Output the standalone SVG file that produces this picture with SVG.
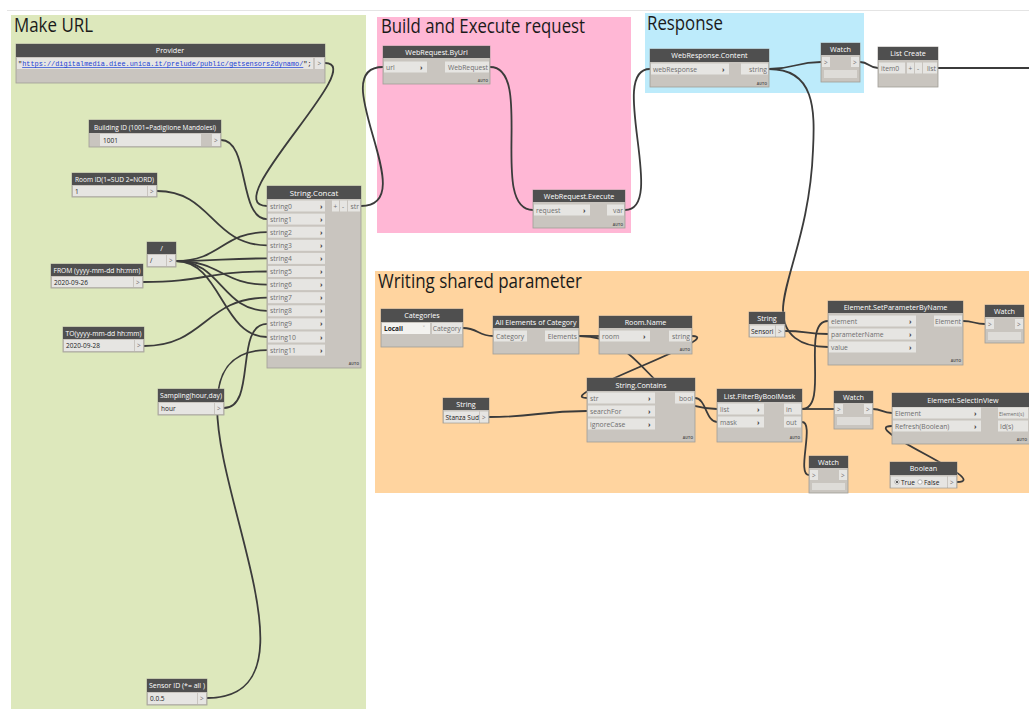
<svg xmlns="http://www.w3.org/2000/svg" width="1029" height="709" viewBox="0 0 1029 709">
<defs>
<style>
text{font-family:"Open Sans","Noto Sans","DejaVu Sans",sans-serif}
.bd{fill:#c9c5bf;stroke:#a19d97;stroke-width:0.8}
.hd{fill:#4f4f4f}
.pt{fill:#e6e5e2}
.ht{font-size:7.2px;fill:#ffffff;text-anchor:middle}
.pl{font-size:6.8px;fill:#6e6e6e}
.pr{font-size:6.8px;fill:#6e6e6e;text-anchor:end}
.pc{font-size:7px;fill:#333;font-weight:bold}
.pa{font-size:6.5px;fill:#6e6e6e}
.va{font-size:6.5px;fill:#222}
.au{font-size:3.6px;fill:#555;text-anchor:end;font-weight:bold}
.ib{fill:#dedcd8}
.gt{font-size:19.5px;fill:#1a1a1a}
.w{fill:none;stroke:#3b3b3b;stroke-width:1.8}
.mono{font-family:"Liberation Mono","DejaVu Sans Mono",monospace;font-size:6.9px;fill:#222}
.url{fill:#1a3fd6;text-decoration:underline}
</style>
</defs>
<rect x="0" y="0" width="1029" height="709" fill="#ffffff"/>
<line x1="7" y1="10.5" x2="1029" y2="10.5" stroke="#e4e4e4" stroke-width="1"/>

<g id="groups">
<g id="group-make-url"><rect x="11" y="15" width="355" height="694" fill="#dde8bc"/><text class="gt" x="14" y="32" textLength="79" lengthAdjust="spacingAndGlyphs">Make URL</text></g>
<g id="group-build"><rect x="377" y="17" width="254" height="216" fill="#ffb7d5"/><text class="gt" x="381" y="33" textLength="204" lengthAdjust="spacingAndGlyphs">Build and Execute request</text></g>
<g id="group-response"><rect x="645" y="13" width="219" height="80" fill="#bdebfb"/><text class="gt" x="647" y="30" textLength="76" lengthAdjust="spacingAndGlyphs">Response</text></g>
<g id="group-writing"><rect x="375" y="271" width="654" height="222" fill="#ffd49f"/><text class="gt" x="378" y="288" textLength="204" lengthAdjust="spacingAndGlyphs">Writing shared parameter</text></g>
</g>

<g id="connectors">
<path class="w" d="M325,63 C370,63 215,206 267,206"/>
<path class="w" d="M221,140 C250,140 238,219.1 267,219.1"/>
<path class="w" d="M157,191 C212,191 212,245.3 267,245.3"/>
<path class="w" d="M176,261 C221,261 222,232.2 267,232.2"/>
<path class="w" d="M176,261 C221,261 222,258.4 267,258.4"/>
<path class="w" d="M176,261 C221,261 222,284.6 267,284.6"/>
<path class="w" d="M176,261 C221,261 222,310.8 267,310.8"/>
<path class="w" d="M176,261 C221,261 222,337 267,337"/>
<path class="w" d="M143,282 C205,282 205,271.5 267,271.5"/>
<path class="w" d="M144,346 C205,346 205,297.7 267,297.7"/>
<path class="w" d="M224,408 C257,408 234,323.9 267,323.9"/>
<path class="w" d="M207,698 C360,698 120,350.1 267,350.1"/>
<path class="w" d="M361,206 C425,206 322,67 383,67"/>
<path class="w" d="M490,67 C535,67 488,210 533,210"/>
<path class="w" d="M625,210 C668,210 607,69 650,69"/>
<path class="w" d="M769,69 C795,69 795,62 821,62"/>
<path class="w" d="M769,69 C815,69 815,110 813,150 C810,230 783,280 783,310 C783,335 800,347 828,347"/>
<path class="w" d="M860,62 C869,62 869,68 878,68"/>
<path class="w" d="M938,68 C980,68 990,68 1029,68"/>
<path class="w" d="M463,328 C478,328 478,336 493,336"/>
<path class="w" d="M579,336 C589,336 589,336 599,336"/>
<path class="w" d="M579,336 C648,336 648,409 717,409"/>
<path class="w" d="M692,336 C730,336 549,398 587,398"/>
<path class="w" d="M489,417 C538,417 538,411 587,411"/>
<path class="w" d="M695,398 C706,398 706,422 717,422"/>
<path class="w" d="M802,409 C818,409 818,409 834,409"/>
<path class="w" d="M802,409 C830,409 800,321 828,321"/>
<path class="w" d="M802,422 C815,422 796,475 809,475"/>
<path class="w" d="M785,331 C806,331 806,334 828,334"/>
<path class="w" d="M963,321 C974,321 974,324 985,324"/>
<path class="w" d="M873,409 C882,409 882,413 892,413"/>
<path class="w" d="M957,482 C995,482 855,426 892,426"/>
</g>

<g id="node-provider">
<rect class="bd" x="16" y="44" width="309" height="39"/>
<rect class="hd" x="16" y="44" width="309" height="13"/>
<text class="ht" x="170" y="53">Provider</text>
<rect class="pt" x="17" y="58" width="296" height="11"/>
<rect class="pt" x="315" y="58" width="9" height="11"/>
<text class="pa" x="317.5" y="66">&gt;</text>
<text class="mono" x="18" y="66">"<tspan class="url">https://digitalmedia.diee.unica.it/prelude/public/getsensors2dynamo/</tspan>";</text>
</g>

<g id="node-building-id">
<rect class="bd" x="89" y="120" width="132" height="27"/>
<rect class="hd" x="89" y="120" width="132" height="13"/>
<text class="ht" x="155" y="129.5" textLength="122" lengthAdjust="spacingAndGlyphs">Building ID (1001=Padiglione Mandolesi)</text>
<rect class="pt" x="100" y="134" width="101" height="12"/>
<rect class="pt" x="212" y="134" width="8" height="12"/>
<text class="pa" x="214" y="142.5">&gt;</text>
<text class="va" x="103" y="142.5">1001</text>
</g>

<g id="node-room-id">
<rect class="bd" x="72" y="173" width="85" height="24"/>
<rect class="hd" x="72" y="173" width="85" height="12"/>
<text class="ht" x="114.5" y="181.5" textLength="79" lengthAdjust="spacingAndGlyphs">Room ID(1=SUD 2=NORD)</text>
<rect class="pt" x="73" y="186" width="74" height="10"/>
<rect class="pt" x="148" y="186" width="8" height="10"/>
<text class="pa" x="150" y="193.5">&gt;</text>
<text class="va" x="75" y="193.5">1</text>
</g>

<g id="node-slash">
<rect class="bd" x="147" y="242" width="29" height="25"/>
<rect class="hd" x="147" y="242" width="29" height="12"/>
<text class="ht" x="161.5" y="250.5">/</text>
<rect class="pt" x="148" y="255" width="18" height="11"/>
<rect class="pt" x="167" y="255" width="8" height="11"/>
<text class="pa" x="169" y="263">&gt;</text>
<text class="va" x="150" y="263">/</text>
</g>

<g id="node-from">
<rect class="bd" x="51" y="264" width="92" height="24"/>
<rect class="hd" x="51" y="264" width="92" height="12"/>
<text class="ht" x="97" y="272.5" textLength="87" lengthAdjust="spacingAndGlyphs">FROM (yyyy-mm-dd hh:mm)</text>
<rect class="pt" x="52" y="277" width="81" height="10"/>
<rect class="pt" x="134" y="277" width="8" height="10"/>
<text class="pa" x="136" y="284.5">&gt;</text>
<text class="va" x="54" y="284.5">2020-09-26</text>
</g>

<g id="node-to">
<rect class="bd" x="63" y="327" width="81" height="25"/>
<rect class="hd" x="63" y="327" width="81" height="12"/>
<text class="ht" x="103.5" y="335.5" textLength="76" lengthAdjust="spacingAndGlyphs">TO(yyyy-mm-dd hh:mm)</text>
<rect class="pt" x="64" y="340" width="70" height="11"/>
<rect class="pt" x="135" y="340" width="8" height="11"/>
<text class="pa" x="137" y="348">&gt;</text>
<text class="va" x="66" y="348">2020-09-28</text>
</g>

<g id="node-sampling">
<rect class="bd" x="158" y="389" width="66" height="26"/>
<rect class="hd" x="158" y="389" width="66" height="13"/>
<text class="ht" x="191" y="398" textLength="62" lengthAdjust="spacingAndGlyphs">Sampling(hour,day)</text>
<rect class="pt" x="159" y="403" width="55" height="11"/>
<rect class="pt" x="215" y="403" width="8" height="11"/>
<text class="pa" x="217" y="411">&gt;</text>
<text class="va" x="161" y="411">hour</text>
</g>

<g id="node-sensor-id">
<rect class="bd" x="147" y="679" width="60" height="26"/>
<rect class="hd" x="147" y="679" width="60" height="13"/>
<text class="ht" x="177" y="688" textLength="56" lengthAdjust="spacingAndGlyphs">Sensor  ID (*= all )</text>
<rect class="pt" x="148" y="693" width="49" height="11"/>
<rect class="pt" x="198" y="693" width="8" height="11"/>
<text class="pa" x="200" y="701">&gt;</text>
<text class="va" x="150" y="701">0.0.5</text>
</g>

<g id="node-string-concat">
<rect class="bd" x="267" y="186" width="94" height="182"/>
<rect class="hd" x="267" y="186" width="94" height="13"/>
<text class="ht" x="314" y="195.5" style="font-size:7.8px">String.Concat</text>
<rect class="pt" x="268" y="200.5" width="57" height="11"/><text class="pl" x="270" y="208.5">string0</text><text class="pc" x="320" y="208.5">›</text>
<rect class="pt" x="268" y="213.6" width="57" height="11"/><text class="pl" x="270" y="221.6">string1</text><text class="pc" x="320" y="221.6">›</text>
<rect class="pt" x="268" y="226.7" width="57" height="11"/><text class="pl" x="270" y="234.7">string2</text><text class="pc" x="320" y="234.7">›</text>
<rect class="pt" x="268" y="239.8" width="57" height="11"/><text class="pl" x="270" y="247.8">string3</text><text class="pc" x="320" y="247.8">›</text>
<rect class="pt" x="268" y="252.9" width="57" height="11"/><text class="pl" x="270" y="260.9">string4</text><text class="pc" x="320" y="260.9">›</text>
<rect class="pt" x="268" y="266" width="57" height="11"/><text class="pl" x="270" y="274">string5</text><text class="pc" x="320" y="274">›</text>
<rect class="pt" x="268" y="279.1" width="57" height="11"/><text class="pl" x="270" y="287.1">string6</text><text class="pc" x="320" y="287.1">›</text>
<rect class="pt" x="268" y="292.2" width="57" height="11"/><text class="pl" x="270" y="300.2">string7</text><text class="pc" x="320" y="300.2">›</text>
<rect class="pt" x="268" y="305.3" width="57" height="11"/><text class="pl" x="270" y="313.3">string8</text><text class="pc" x="320" y="313.3">›</text>
<rect class="pt" x="268" y="318.4" width="57" height="11"/><text class="pl" x="270" y="326.4">string9</text><text class="pc" x="320" y="326.4">›</text>
<rect class="pt" x="268" y="331.5" width="57" height="11"/><text class="pl" x="270" y="339.5">string10</text><text class="pc" x="320" y="339.5">›</text>
<rect class="pt" x="268" y="344.6" width="57" height="11"/><text class="pl" x="270" y="352.6">string11</text><text class="pc" x="320" y="352.6">›</text>
<rect class="pt" x="332" y="200.5" width="7" height="11"/><text class="pa" x="333.5" y="208.5">+</text>
<rect class="pt" x="340" y="200.5" width="7" height="11"/><text class="pa" x="342" y="208.5">-</text>
<rect class="pt" x="348" y="200.5" width="12" height="11"/><text class="pr" x="359" y="208.5">str</text>
<text class="au" x="359" y="365">AUTO</text>
</g>

<g id="node-webrequest-byurl">
<rect class="bd" x="383" y="46" width="107" height="38"/>
<rect class="hd" x="383" y="46" width="107" height="12"/>
<text class="ht" x="436.5" y="54.5">WebRequest.ByUrl</text>
<rect class="pt" x="384" y="61.5" width="43" height="11"/><text class="pl" x="386" y="69.5">url</text><text class="pc" x="420" y="69.5">›</text>
<rect class="pt" x="445" y="61.5" width="44" height="11"/><text class="pr" x="488" y="69.5">WebRequest</text>
<text class="au" x="488" y="81.5">AUTO</text>
</g>

<g id="node-webrequest-execute">
<rect class="bd" x="533" y="190" width="92" height="38"/>
<rect class="hd" x="533" y="190" width="92" height="12"/>
<text class="ht" x="579" y="198.5">WebRequest.Execute</text>
<rect class="pt" x="534" y="204.5" width="56" height="11"/><text class="pl" x="536" y="212.5">request</text><text class="pc" x="583" y="212.5">›</text>
<rect class="pt" x="607" y="204.5" width="17" height="11"/><text class="pr" x="623" y="212.5">var</text>
<text class="au" x="623" y="225.5">AUTO</text>
</g>

<g id="node-webresponse-content">
<rect class="bd" x="650" y="49" width="119" height="38"/>
<rect class="hd" x="650" y="49" width="119" height="13"/>
<text class="ht" x="709.5" y="58">WebResponse.Content</text>
<rect class="pt" x="651" y="63.5" width="78" height="11"/><text class="pl" x="653" y="71.5">webResponse</text><text class="pc" x="722" y="71.5">›</text>
<rect class="pt" x="741" y="63.5" width="27" height="11"/><text class="pr" x="767" y="71.5">string</text>
<text class="au" x="767" y="84.5">AUTO</text>
</g>

<g id="node-watch-top">
<rect class="bd" x="821" y="43" width="39" height="39"/>
<rect class="hd" x="821" y="43" width="39" height="12"/>
<text class="ht" x="840.5" y="51.5">Watch</text>
<rect class="pt" x="822" y="57" width="8" height="10"/><text class="pa" x="824" y="64.5">&gt;</text>
<rect class="pt" x="851" y="57" width="8" height="10"/><text class="pa" x="853" y="64.5">&gt;</text>
<rect class="ib" x="824" y="70" width="33" height="8"/>
</g>

<g id="node-list-create">
<rect class="bd" x="878" y="47" width="60" height="40"/>
<rect class="hd" x="878" y="47" width="60" height="13"/>
<text class="ht" x="908" y="56">List Create</text>
<rect class="pt" x="879" y="62.5" width="26" height="11"/><text class="pl" x="881" y="70.5">item0</text>
<rect class="pt" x="907" y="62.5" width="7" height="11"/><text class="pa" x="908.5" y="70.5">+</text>
<rect class="pt" x="915" y="62.5" width="7" height="11"/><text class="pa" x="917" y="70.5">-</text>
<rect class="pt" x="923" y="62.5" width="14" height="11"/><text class="pr" x="936" y="70.5">list</text>
</g>

<g id="node-categories">
<rect class="bd" x="381" y="309" width="82" height="38"/>
<rect class="hd" x="381" y="309" width="82" height="13"/>
<text class="ht" x="422" y="318">Categories</text>
<rect x="382" y="323" width="48" height="11" fill="#f3f2ef"/>
<text class="va" x="384" y="331" style="font-weight:bold">Locali</text>
<text class="pa" x="423" y="331">˅</text>
<rect class="pt" x="432" y="323" width="30" height="11"/><text class="pr" x="461" y="331">Category</text>
</g>

<g id="node-all-elements">
<rect class="bd" x="493" y="316" width="86" height="38"/>
<rect class="hd" x="493" y="316" width="86" height="12"/>
<text class="ht" x="536" y="324.5">All Elements of Category</text>
<rect class="pt" x="494" y="330.5" width="33" height="11"/><text class="pl" x="496" y="338.5">Category</text>
<rect class="pt" x="545" y="330.5" width="33" height="11"/><text class="pr" x="577" y="338.5">Elements</text>
</g>

<g id="node-room-name">
<rect class="bd" x="599" y="316" width="93" height="38"/>
<rect class="hd" x="599" y="316" width="93" height="12"/>
<text class="ht" x="645.5" y="324.5">Room.Name</text>
<rect class="pt" x="600" y="330.5" width="50" height="11"/><text class="pl" x="602" y="338.5">room</text><text class="pc" x="643" y="338.5">›</text>
<rect class="pt" x="669" y="330.5" width="22" height="11"/><text class="pr" x="690" y="338.5">string</text>
<text class="au" x="690" y="351">AUTO</text>
</g>

<g id="node-string-stanza">
<rect class="bd" x="443" y="398" width="46" height="25"/>
<rect class="hd" x="443" y="398" width="46" height="12"/>
<text class="ht" x="466" y="406.5">String</text>
<rect class="pt" x="444" y="411.5" width="35" height="11"/><text class="va" x="445.5" y="419.5">Stanza Sud</text>
<rect class="pt" x="480" y="411.5" width="8" height="11"/><text class="pa" x="482" y="419.5">&gt;</text>
</g>

<g id="node-string-contains">
<rect class="bd" x="587" y="378" width="108" height="64"/>
<rect class="hd" x="587" y="378" width="108" height="13"/>
<text class="ht" x="641" y="387.5">String.Contains</text>
<rect class="pt" x="588" y="392.5" width="67" height="11"/><text class="pl" x="590" y="400.5">str</text><text class="pc" x="648" y="400.5">›</text>
<rect class="pt" x="588" y="405.5" width="67" height="11"/><text class="pl" x="590" y="413.5">searchFor</text><text class="pc" x="648" y="413.5">›</text>
<rect class="pt" x="588" y="418.5" width="67" height="11"/><text class="pl" x="590" y="426.5">ignoreCase</text><text class="pc" x="648" y="426.5">›</text>
<rect class="pt" x="675" y="392.5" width="19" height="11"/><text class="pr" x="693" y="400.5">bool</text>
<text class="au" x="693" y="439">AUTO</text>
</g>

<g id="node-filter-bool-mask">
<rect class="bd" x="717" y="389" width="85" height="53"/>
<rect class="hd" x="717" y="389" width="85" height="13"/>
<text class="ht" x="759.5" y="398.5">List.FilterByBoolMask</text>
<rect class="pt" x="718" y="403.5" width="46" height="11"/><text class="pl" x="720" y="411.5">list</text><text class="pc" x="757" y="411.5">›</text>
<rect class="pt" x="718" y="416.5" width="46" height="11"/><text class="pl" x="720" y="424.5">mask</text><text class="pc" x="757" y="424.5">›</text>
<rect class="pt" x="784" y="403.5" width="17" height="11"/><text class="pl" x="786" y="411.5">in</text>
<rect class="pt" x="784" y="416.5" width="17" height="11"/><text class="pl" x="786" y="424.5">out</text>
<text class="au" x="800" y="439">AUTO</text>
</g>

<g id="node-string-sensori">
<rect class="bd" x="749" y="312" width="36" height="25"/>
<rect class="hd" x="749" y="312" width="36" height="12"/>
<text class="ht" x="767" y="320.5">String</text>
<rect class="pt" x="750" y="325.5" width="25" height="11"/><text class="va" x="751" y="333.5">Sensori</text>
<rect class="pt" x="776" y="325.5" width="8" height="11"/><text class="pa" x="778" y="333.5">&gt;</text>
</g>

<g id="node-set-parameter">
<rect class="bd" x="828" y="301" width="135" height="64"/>
<rect class="hd" x="828" y="301" width="135" height="12"/>
<text class="ht" x="895.5" y="309.5">Element.SetParameterByName</text>
<rect class="pt" x="829" y="315.5" width="87" height="11"/><text class="pl" x="831" y="323.5">element</text><text class="pc" x="909" y="323.5">›</text>
<rect class="pt" x="829" y="328.5" width="87" height="11"/><text class="pl" x="831" y="336.5">parameterName</text><text class="pc" x="909" y="336.5">›</text>
<rect class="pt" x="829" y="341.5" width="87" height="11"/><text class="pl" x="831" y="349.5">value</text><text class="pc" x="909" y="349.5">›</text>
<rect class="pt" x="934" y="315.5" width="28" height="11"/><text class="pr" x="961" y="323.5">Element</text>
<text class="au" x="961" y="362">AUTO</text>
</g>

<g id="node-watch-right">
<rect class="bd" x="985" y="305" width="39" height="38"/>
<rect class="hd" x="985" y="305" width="39" height="12"/>
<text class="ht" x="1004.5" y="313.5">Watch</text>
<rect class="pt" x="986" y="319" width="8" height="10"/><text class="pa" x="988" y="326.5">&gt;</text>
<rect class="pt" x="1015" y="319" width="8" height="10"/><text class="pa" x="1017" y="326.5">&gt;</text>
<rect class="ib" x="988" y="332" width="33" height="8"/>
</g>

<g id="node-watch-middle">
<rect class="bd" x="834" y="391" width="39" height="38"/>
<rect class="hd" x="834" y="391" width="39" height="12"/>
<text class="ht" x="853.5" y="399.5">Watch</text>
<rect class="pt" x="835" y="404" width="8" height="10"/><text class="pa" x="837" y="411.5">&gt;</text>
<rect class="pt" x="864" y="404" width="8" height="10"/><text class="pa" x="866" y="411.5">&gt;</text>
<rect class="ib" x="837" y="417" width="33" height="8"/>
</g>

<g id="node-select-in-view">
<rect class="bd" x="892" y="393" width="145" height="51"/>
<rect class="hd" x="892" y="393" width="145" height="14"/>
<text class="ht" x="963" y="402.5">Element.SelectInView</text>
<rect class="pt" x="893" y="407.5" width="88" height="11"/><text class="pl" x="895" y="415.5">Element</text><text class="pc" x="974" y="415.5">›</text>
<rect class="pt" x="893" y="420.5" width="88" height="11"/><text class="pl" x="895" y="428.5">Refresh(Boolean)</text><text class="pc" x="974" y="428.5">›</text>
<rect class="pt" x="998" y="407.5" width="30" height="11"/><text class="pl" x="999" y="415.5" style="font-size:6px" textLength="25" lengthAdjust="spacingAndGlyphs">Element(s)</text>
<rect class="pt" x="998" y="420.5" width="30" height="11"/><text class="pl" x="1000" y="428.5">Id(s)</text>
<text class="au" x="1027" y="441">AUTO</text>
</g>

<g id="node-watch-bottom">
<rect class="bd" x="809" y="456" width="39" height="37"/>
<rect class="hd" x="809" y="456" width="39" height="12"/>
<text class="ht" x="828.5" y="464.5">Watch</text>
<rect class="pt" x="810" y="470" width="8" height="10"/><text class="pa" x="812" y="477.5">&gt;</text>
<rect class="pt" x="839" y="470" width="8" height="10"/><text class="pa" x="841" y="477.5">&gt;</text>
<rect class="ib" x="812" y="483" width="33" height="7"/>
</g>

<g id="node-boolean">
<rect class="bd" x="890" y="462" width="67" height="26"/>
<rect class="hd" x="890" y="462" width="67" height="13"/>
<text class="ht" x="923.5" y="471">Boolean</text>
<rect class="pt" x="891" y="476.5" width="56" height="11"/>
<circle cx="897" cy="482" r="2.2" fill="#fff" stroke="#777" stroke-width="0.5"/>
<circle cx="897" cy="482" r="1.1" fill="#333"/>
<text class="va" x="901" y="484.5">True</text>
<circle cx="920" cy="482" r="2.2" fill="#fff" stroke="#777" stroke-width="0.5"/>
<text class="va" x="924" y="484.5">False</text>
<rect class="pt" x="948" y="476.5" width="8" height="11"/><text class="pa" x="950" y="484.5">&gt;</text>
</g>
</svg>
